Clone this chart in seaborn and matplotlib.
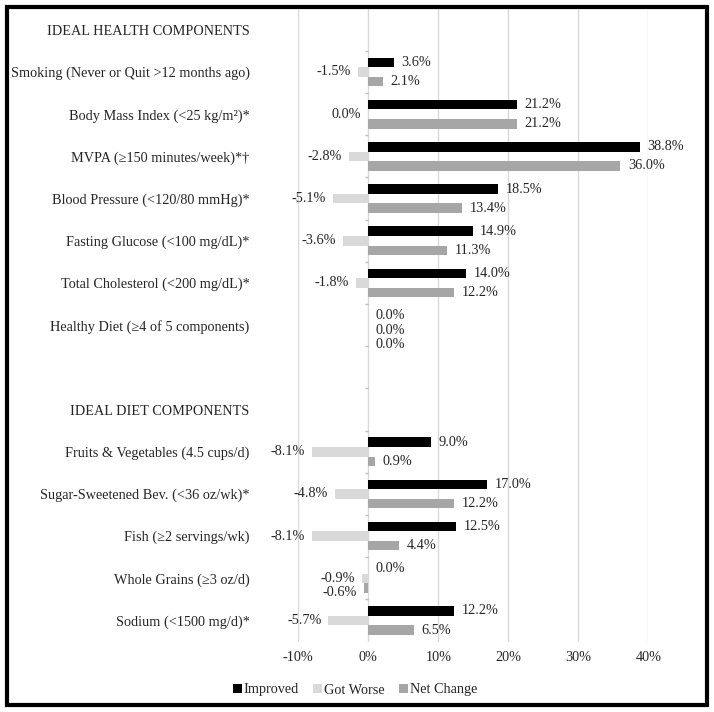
import numpy as np
import pandas as pd
import seaborn as sns
import matplotlib.pyplot as plt
from matplotlib.patches import Rectangle

# data
health = ['Smoking (Never or Quit >12 months ago)',
          'Body Mass Index (<25 kg/m²)*',
          'MVPA (≥150 minutes/week)*†',
          'Blood Pressure (<120/80 mmHg)*',
          'Fasting Glucose (<100 mg/dL)*',
          'Total Cholesterol (<200 mg/dL)*',
          'Healthy Diet (≥4 of 5 components)']
diet = ['Fruits & Vegetables (4.5 cups/d)',
        'Sugar-Sweetened Bev. (<36 oz/wk)*',
        'Fish (≥2 servings/wk)',
        'Whole Grains (≥3 oz/d)',
        'Sodium (<1500 mg/d)*']
components = health + diet

improved = [3.6, 21.2, 38.8, 18.5, 14.9, 14.0, 0.0,
            9.0, 17.0, 12.5, 0.0, 12.2]
# BMI "got worse" is a rounded-down negative, so its label sits on the left
got_worse = [-1.5, -0.0, -2.8, -5.1, -3.6, -1.8, 0.0,
             -8.1, -4.8, -8.1, -0.9, -5.7]
net_change = [2.1, 21.2, 36.0, 13.4, 11.3, 12.2, 0.0,
              0.9, 12.2, 4.4, -0.6, 6.5]

series = ['Improved', 'Got Worse', 'Net Change']
colors = ['#000000', '#d9d9d9', '#a6a6a6']
x_ticks = [-10, 0, 10, 20, 30, 40]

order = ['IDEAL HEALTH COMPONENTS'] + health + ['', 'IDEAL DIET COMPONENTS'] + diet

# long table for seaborn
df = pd.DataFrame({
    'component': components * 3,
    'series': np.repeat(series, len(components)),
    'value': improved + got_worse + net_change,
})

sns.set_style('white')
plt.rcParams['font.family'] = ['Liberation Serif', 'DejaVu Serif']
fs = 10.3

fig = plt.figure(figsize=(7.14, 7.12), dpi=100)
ax = fig.add_axes([298.3 / 714, (712 - 641.6) / 712, 350 / 714, 632.9 / 712])

sns.barplot(data=df, y='component', x='value', hue='series', order=order,
            hue_order=series, palette=colors, orient='h', width=0.68,
            errorbar=None, saturation=1, linewidth=0, ax=ax, zorder=3)

handles, labels = ax.get_legend_handles_labels()
ax.get_legend().remove()

ax.set_xlim(-10, 40)
ax.set_ylim(len(order) - 0.5, -0.5)
ax.set_xticks(x_ticks)
ax.set_xticklabels([f'{t}%' for t in x_ticks], fontsize=fs)
ax.tick_params(axis='x', length=0, pad=7)
ax.tick_params(axis='y', length=0, pad=35, labelsize=fs)
ax.set_xlabel('')
ax.set_ylabel('')
for s in ax.spines.values():
    s.set_visible(False)
ax.grid(axis='x', color='#d9d9d9', linewidth=1, zorder=0)
ax.grid(axis='y', visible=False)

# small category boundary ticks on the zero axis
ax.hlines(np.arange(len(order) - 1) + 0.5, -0.5, 0, color='#bfbfbf',
          linewidth=1, zorder=1)

# data labels, nudged down when two on the same side would overlap
label_h = 14.5 / 42.19
vals = {'Improved': improved, 'Got Worse': got_worse, 'Net Change': net_change}
for ci, comp in enumerate(components):
    row = order.index(comp)
    last = {'r': None, 'l': None}
    for k, name in enumerate(series):
        v = vals[name][ci]
        bar = [b for b in ax.containers[k]
               if round(b.get_y() + b.get_height() / 2) == row][0]
        y = bar.get_y() + bar.get_height() / 2
        side = 'l' if np.signbit(v) else 'r'
        if last[side] is not None and y - last[side] < label_h:
            y = last[side] + label_h
        last[side] = y
        ax.annotate(f'{v + 0.0:.1f}%', xy=(v, y),
                    xytext=(-5 if side == 'l' else 5.5, 0),
                    textcoords='offset points', va='center',
                    ha='right' if side == 'l' else 'left',
                    fontsize=fs, annotation_clip=False)

fig.legend(handles, labels, loc='center', bbox_to_anchor=(355 / 714, 1 - 690 / 712),
           ncol=3, frameon=False, fontsize=fs, handlelength=0.6, handleheight=0.6,
           handletextpad=0.15, columnspacing=1.0)

# outer border
fig.patches.append(Rectangle((7 / 714, 7 / 712), 700 / 714, 698 / 712,
                             transform=fig.transFigure, fill=False,
                             edgecolor='black', linewidth=3))

fig.savefig('out.png', dpi=100)
